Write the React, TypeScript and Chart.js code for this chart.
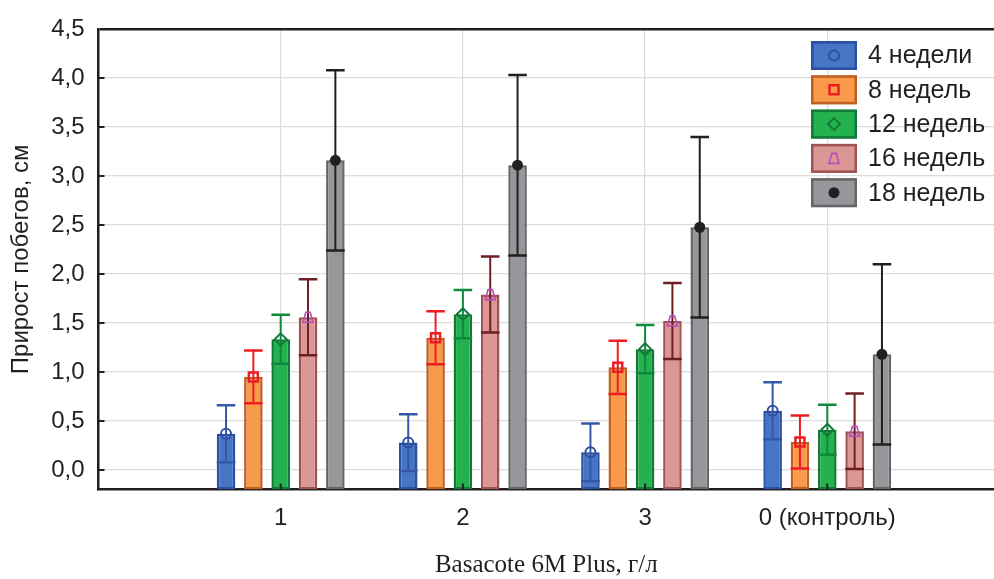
import React, { useEffect, useRef } from 'react';
import { Chart, registerables } from 'chart.js';

Chart.register(...registerables);

const groupLabels = ['1', '2', '3', '0 (контроль)'];
const groupPositions = [1, 2, 3, 4];
const seriesNames = ['4 недели', '8 недель', '12 недель', '16 недель', '18 недель'];

const week4 = [0.37, 0.28, 0.18, 0.605];
const week8 = [0.95, 1.35, 1.048, 0.285];
const week12 = [1.333, 1.59, 1.233, 0.41];
const week16 = [1.558, 1.79, 1.52, 0.395];
const week18 = [3.16, 3.11, 2.477, 1.18];

const err4 = [0.29, 0.29, 0.295, 0.29];
const err8 = [0.27, 0.27, 0.272, 0.27];
const err12 = [0.25, 0.246, 0.246, 0.255];
const err16 = [0.388, 0.388, 0.388, 0.385];
const err18 = [0.92, 0.92, 0.922, 0.92];

const yTickValues = [0, 0.5, 1, 1.5, 2, 2.5, 3, 3.5, 4, 4.5];

const seriesMeans = [week4, week8, week12, week16, week18];
const seriesErrors = [err4, err8, err12, err16, err18];

const seriesStyles = [
  { fill: '#4675c6', border: '#2b4fa2', err: '#3557a8', marker: 'circle', mcolor: '#2f4fa0' },
  { fill: '#f89a4a', border: '#bf5f22', err: '#ee1d23', marker: 'square', mcolor: '#ee1d23' },
  { fill: '#24b24e', border: '#137838', err: '#0f8a3c', marker: 'diamond', mcolor: '#0f7a38' },
  { fill: '#db9696', border: '#a05353', err: '#6e1f22', marker: 'trap', mcolor: '#b84db8' },
  { fill: '#97979b', border: '#666668', err: '#231f20', marker: 'dot', mcolor: '#231f20' },
];

const SANS = '"Liberation Sans", Arial, sans-serif';
const SERIF = '"Liberation Serif", "Times New Roman", serif';
const INK = '#231f20';

function drawMarker(ctx: CanvasRenderingContext2D, type: string, color: string, x: number, y: number) {
  ctx.save();
  ctx.strokeStyle = color;
  ctx.fillStyle = color;
  ctx.lineWidth = 2;
  ctx.beginPath();
  if (type === 'circle') {
    ctx.arc(x, y, 5, 0, Math.PI * 2);
    ctx.stroke();
  } else if (type === 'square') {
    ctx.rect(x - 4.5, y - 4.5, 9, 9);
    ctx.lineWidth = 2.5;
    ctx.stroke();
  } else if (type === 'diamond') {
    ctx.moveTo(x, y - 6);
    ctx.lineTo(x + 6, y);
    ctx.lineTo(x, y + 6);
    ctx.lineTo(x - 6, y);
    ctx.closePath();
    ctx.stroke();
  } else if (type === 'trap') {
    ctx.lineWidth = 1.6;
    ctx.moveTo(x - 5, y + 5);
    ctx.lineTo(x + 5, y + 5);
    ctx.lineTo(x + 2.2, y - 5);
    ctx.lineTo(x - 2.2, y - 5);
    ctx.closePath();
    ctx.stroke();
  } else {
    ctx.arc(x, y, 5.5, 0, Math.PI * 2);
    ctx.fill();
  }
  ctx.restore();
}

const errorBarPlugin = {
  id: 'errorBars',
  afterDatasetsDraw(chart: any) {
    const ctx: CanvasRenderingContext2D = chart.ctx;
    const yScale = chart.scales.y;
    const xScale = chart.scales.x;
    const area = chart.chartArea;
    chart.data.datasets.forEach((_ds: any, i: number) => {
      const meta = chart.getDatasetMeta(i);
      const st = seriesStyles[i];
      meta.data.forEach((el: any, j: number) => {
        const { x, width } = el.getProps(['x', 'width'], true);
        const m = seriesMeans[i][j];
        const e = seriesErrors[i][j];
        const yTop = yScale.getPixelForValue(m + e);
        const yBot = yScale.getPixelForValue(m - e);
        const yM = yScale.getPixelForValue(m);
        ctx.save();
        ctx.strokeStyle = st.err;
        ctx.lineWidth = 2;
        ctx.beginPath();
        ctx.moveTo(x, yTop);
        ctx.lineTo(x, yBot);
        ctx.stroke();
        ctx.lineWidth = 2.5;
        ctx.beginPath();
        ctx.moveTo(x - width / 2, yTop);
        ctx.lineTo(x + width / 2, yTop);
        ctx.moveTo(x - width / 2, yBot);
        ctx.lineTo(x + width / 2, yBot);
        ctx.stroke();
        ctx.restore();
        drawMarker(ctx, st.marker, st.mcolor, x, yM);
      });
    });
    // inward tick marks
    ctx.save();
    ctx.strokeStyle = INK;
    ctx.lineWidth = 2;
    ctx.beginPath();
    yTickValues.forEach((v) => {
      if (v >= 4.5) return;
      const y = yScale.getPixelForValue(v);
      ctx.moveTo(area.left, y);
      ctx.lineTo(area.left + 6, y);
    });
    groupPositions.forEach((v) => {
      const x = xScale.getPixelForValue(v);
      ctx.moveTo(x, area.bottom);
      ctx.lineTo(x, area.bottom - 6);
    });
    ctx.stroke();
    ctx.restore();
  },
  afterDraw(chart: any) {
    const ctx: CanvasRenderingContext2D = chart.ctx;
    const bx = 811;
    const by0 = 41;
    const step = 34.3;
    const bw = 46;
    const bh = 29;
    seriesNames.forEach((name, i) => {
      const st = seriesStyles[i];
      const by = by0 + i * step;
      ctx.save();
      ctx.fillStyle = st.fill;
      ctx.fillRect(bx, by, bw, bh);
      ctx.strokeStyle = st.border;
      ctx.lineWidth = 2.5;
      ctx.strokeRect(bx + 1.25, by + 1.25, bw - 2.5, bh - 2.5);
      ctx.restore();
      drawMarker(ctx, st.marker, st.mcolor, bx + bw / 2, by + bh / 2);
      ctx.save();
      ctx.fillStyle = INK;
      ctx.font = `25px ${SANS}`;
      ctx.textBaseline = 'middle';
      ctx.textAlign = 'left';
      ctx.fillText(name, 868, by + bh / 2 + 1);
      ctx.restore();
    });
  },
};

export default function App() {
  const canvasRef = useRef<HTMLCanvasElement | null>(null);

  useEffect(() => {
    const canvas = canvasRef.current;
    if (!canvas) return;
    const datasets = seriesNames.map((name, i) => ({
      label: name,
      data: groupPositions.map((p, j) => ({ x: p, y: seriesMeans[i][j] })),
      backgroundColor: seriesStyles[i].fill,
      borderColor: seriesStyles[i].border,
      borderWidth: 2.5,
      borderSkipped: false,
      base: -0.2,
      categoryPercentage: 0.75,
      barPercentage: 0.68,
    }));

    const chart = new Chart(canvas, {
      type: 'bar',
      data: { datasets } as any,
      options: {
        animation: false,
        responsive: false,
        devicePixelRatio: 1,
        layout: { padding: { top: 29, right: 0, left: 0, bottom: 0 } },
        plugins: {
          legend: { display: false },
          tooltip: { enabled: false },
        },
        scales: {
          x: {
            type: 'linear',
            offset: false,
            min: 0,
            max: 4.915,
            afterBuildTicks: (scale: any) => {
              scale.ticks = groupPositions.map((v) => ({ value: v }));
            },
            afterFit: (scale: any) => {
              scale.height = 89.4;
            },
            grid: { offset: false, color: '#dcdcdc', lineWidth: 1.2, drawTicks: false },
            border: { display: true, color: INK, width: 2.5 },
            ticks: {
              padding: 14,
              color: INK,
              font: { family: SANS, size: 24 },
              callback: (v: any) => groupLabels[groupPositions.indexOf(Number(v))] ?? '',
              maxRotation: 0,
              autoSkip: false,
            },
            title: {
              display: true,
              text: 'Basacote 6M Plus, г/л',
              color: INK,
              font: { family: SERIF, size: 25, lineHeight: 1 },
              padding: { top: 0, bottom: 1 },
            },
          },
          y: {
            type: 'linear',
            min: -0.2,
            max: 4.5,
            afterBuildTicks: (scale: any) => {
              scale.ticks = yTickValues.map((v) => ({ value: v }));
            },
            afterFit: (scale: any) => {
              scale.width = 98.5;
            },
            grid: {
              color: (c: any) => (c.tick && c.tick.value === 4.5 ? INK : '#dcdcdc'),
              lineWidth: (c: any) => (c.tick && c.tick.value === 4.5 ? 2.5 : 1.2),
              drawTicks: false,
            },
            border: { display: true, color: INK, width: 2.5 },
            ticks: {
              padding: 14,
              color: INK,
              font: { family: SANS, size: 24 },
              callback: (v: any) => Number(v).toFixed(1).replace('.', ','),
            },
            title: {
              display: true,
              text: 'Прирост побегов, см',
              color: INK,
              font: { family: SANS, size: 24, lineHeight: 1.2 },
              padding: { top: 7, bottom: 0 },
            },
          },
        },
      } as any,
      plugins: [errorBarPlugin],
    });
    return () => chart.destroy();
  }, []);

  return (
    <div style={{ position: 'fixed', left: 0, top: 0, width: 994, height: 579, background: '#fff' }}>
      <canvas ref={canvasRef} width={994} height={579} style={{ display: 'block' }} />
    </div>
  );
}
